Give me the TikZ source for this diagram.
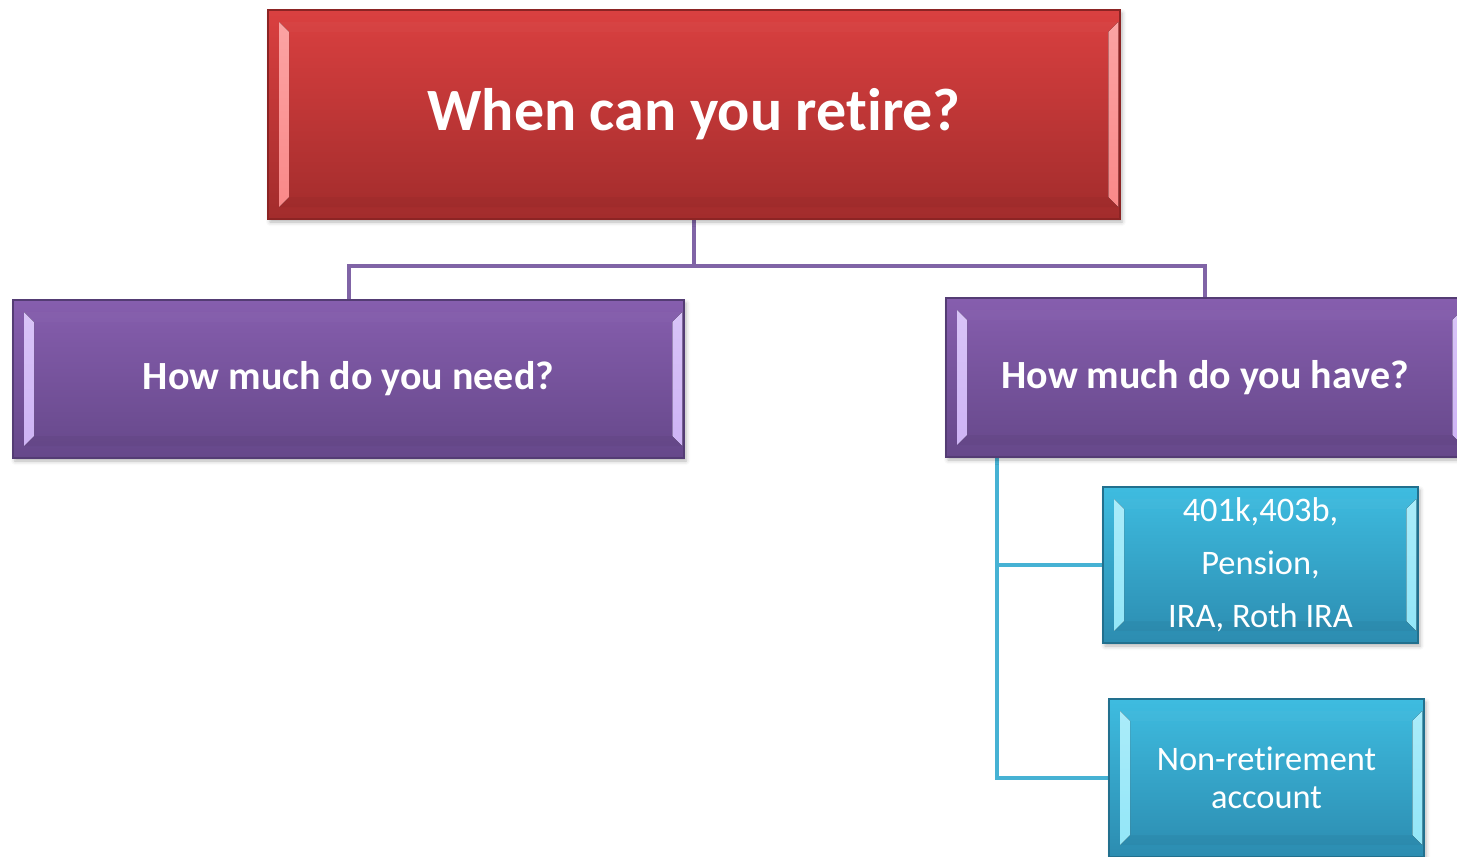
\documentclass[tikz,border=0pt]{standalone}
\usepackage{fontspec}
\setmainfont{Carlito}[Ligatures=CommonOff]
\usetikzlibrary{calc,shadows.blur,backgrounds}

\definecolor{redT}{RGB}{218,64,64}
\definecolor{redB}{RGB}{162,44,44}
\definecolor{redD}{RGB}{140,36,36}
\definecolor{redL}{RGB}{250,135,135}
\definecolor{purT}{RGB}{134,94,174}
\definecolor{purB}{RGB}{102,72,138}
\definecolor{purD}{RGB}{84,60,116}
\definecolor{purL}{RGB}{205,178,245}
\definecolor{cyaT}{RGB}{62,188,224}
\definecolor{cyaB}{RGB}{44,140,176}
\definecolor{cyaD}{RGB}{34,112,142}
\definecolor{cyaL}{RGB}{145,230,248}
\definecolor{purLine}{RGB}{128,100,166}
\definecolor{cyaLine}{RGB}{70,178,212}

% bevelled facets drawn inside a box
\newcommand\bevelfacets[1]{%
  \fill[top color=#1!75!white, bottom color=#1]
    let \p1=(path picture bounding box.south west),
        \p2=(path picture bounding box.north east) in
    (\x1+5.5pt,\y1+6pt) -- (\x1+10.5pt,\y1+11pt) -- (\x1+10.5pt,\y2-11pt) -- (\x1+5.5pt,\y2-6pt) -- cycle
    (\x2-0.8pt,\y1+6pt) -- (\x2-5.8pt,\y1+11pt) -- (\x2-5.8pt,\y2-11pt) -- (\x2-0.8pt,\y2-6pt) -- cycle;
  \fill[white,opacity=0.025]
    let \p1=(path picture bounding box.south west),
        \p2=(path picture bounding box.north east) in
    (\x1+5.5pt,\y2-6pt) -- (\x2-0.8pt,\y2-6pt) -- (\x2-5.8pt,\y2-11pt) -- (\x1+10.5pt,\y2-11pt) -- cycle;
  \fill[black,opacity=0.035]
    let \p1=(path picture bounding box.south west),
        \p2=(path picture bounding box.north east) in
    (\x1+5.5pt,\y1+6pt) -- (\x2-0.8pt,\y1+6pt) -- (\x2-5.8pt,\y1+11pt) -- (\x1+10.5pt,\y1+11pt) -- cycle;
}

\tikzset{
  boxbase/.style={rectangle, inner sep=0pt, line width=0.6pt, text=white, align=center,
    blur shadow={shadow xshift=1pt, shadow yshift=-1.5pt, shadow blur radius=2pt, shadow opacity=30}},
  redbox/.style={boxbase, top color=redT, bottom color=redB, draw=redD,
    path picture={\bevelfacets{redL}}},
  purbox/.style={boxbase, top color=purT, bottom color=purB, draw=purD,
    path picture={\bevelfacets{purL}}},
  cyabox/.style={boxbase, top color=cyaT, bottom color=cyaB, draw=cyaD,
    path picture={\bevelfacets{cyaL}}},
  purwire/.style={draw=purLine, line width=2pt},
  cyawire/.style={draw=cyaLine, line width=2pt},
}

\begin{document}
\begin{tikzpicture}[x=0.5pt,y=-0.5pt]
  \useasboundingbox (0,0) rectangle (1457,857);

  \node[redbox, minimum width=426pt, minimum height=104.5pt,
        font=\fontsize{30}{36}\selectfont\bfseries] (retire) at (694,114.5) {When can you retire?};

  \node[purbox, minimum width=335.5pt, minimum height=79pt,
        font=\fontsize{20}{24}\selectfont\bfseries] (need) at (348.5,379) {How much do you need?};

  \node[purbox, minimum width=259pt, minimum height=79.5pt,
        font=\fontsize{20}{24}\selectfont\bfseries] (have) at (1205,377.5) {How much do you have?};

  \node[cyabox, minimum width=157.5pt, minimum height=78pt,
        font=\fontsize{17.2}{26.5}\selectfont] (plans) at (1260.5,565) {401k,403b,\\Pension,\\IRA, Roth IRA};

  \node[cyabox, minimum width=157.5pt, minimum height=79pt,
        font=\fontsize{17.2}{19}\selectfont] (nonret) at (1266.5,778) {Non-retirement\\account};

  \coordinate (split) at (694,266);
  \coordinate (trunk) at (997,458);

  \begin{scope}[on background layer]
    \draw[purwire] (retire.south) -- (split) -| (need.north);
    \draw[purwire] (split) -| (have.north);
    \draw[cyawire] (trunk) |- (plans.west);
    \draw[cyawire] (trunk) |- (nonret.west);
  \end{scope}
\end{tikzpicture}
\end{document}
